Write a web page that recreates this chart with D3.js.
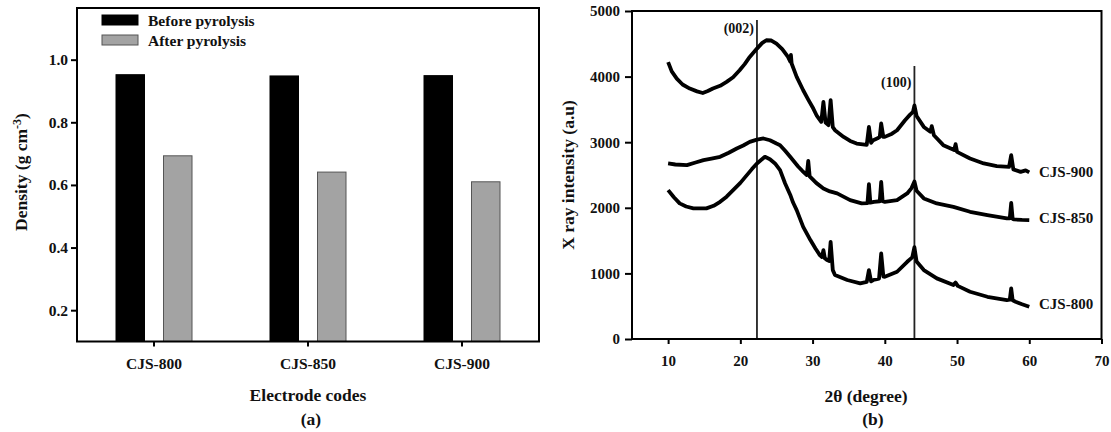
<!DOCTYPE html>
<html>
<head>
<meta charset="utf-8">
<script src="https://cdn.jsdelivr.net/npm/d3@7"></script>
<style>
  html, body { margin: 0; padding: 0; background: #fff; }
  svg { display: block; }
  text { font-family: "Liberation Serif", "Times New Roman", serif; font-weight: bold; fill: #111; }
</style>
</head>
<body>
<svg id="chart" width="1111" height="432"></svg>
<script>
// ---------- Panel (a): density ----------
const electrodeCodes = ["CJS-800", "CJS-850", "CJS-900"];
const seriesNames = ["Before pyrolysis", "After pyrolysis"];
const densityBefore = [0.952, 0.948, 0.949];
const densityAfter = [0.693, 0.641, 0.610];
const densityTicks = [0.2, 0.4, 0.6, 0.8, 1.0];

// ---------- Panel (b): XRD ----------
const cjs900Theta = [10.0,10.5,11.2,12.0,13.0,14.0,14.8,15.5,16.2,17.2,18.1,19.0,19.9,20.6,21.3,22.3,23.0,23.6,24.3,25.0,25.8,26.6,26.9,27.0,27.1,27.8,28.7,29.4,30.1,30.6,31.2,31.5,31.8,32.2,32.5,32.8,33.1,34.3,35.2,36.1,37.5,37.8,38.1,38.4,39.0,39.3,39.5,39.8,40.0,41.0,41.7,42.8,43.5,43.9,44.1,44.4,45.4,46.3,46.5,46.8,48.1,49.6,49.8,50.0,51.8,53.7,55.5,57.2,57.5,57.8,58.8,59.5,60.0];
const cjs900Int   = [4220,4080,3970,3880,3818,3775,3750,3780,3818,3860,3920,3990,4097,4190,4300,4427,4510,4554,4550,4503,4420,4300,4230,4330,4200,3995,3792,3650,3513,3400,3310,3614,3300,3259,3640,3230,3183,3081,3020,2980,2960,3233,2990,3031,3060,3080,3285,3080,3081,3130,3183,3335,3420,3460,3560,3400,3233,3160,3244,3107,2955,2880,2970,2853,2752,2676,2635,2624,2802,2585,2548,2570,2540];

const cjs850Theta = [10.0,11.0,12.6,13.8,14.9,16.0,17.2,18.4,19.5,20.4,21.3,22.3,23.2,24.1,25.0,25.5,26.2,26.9,28.0,28.6,29.2,29.4,29.6,30.5,31.5,32.4,33.4,35.2,36.8,37.6,37.8,38.0,38.5,39.3,39.5,39.7,40.0,41.7,43.1,43.7,44.1,44.4,45.4,47.2,49.5,51.8,54.2,56.9,57.3,57.5,57.7,57.9,59.0,60.0];
const cjs850Int   = [2676,2660,2650,2690,2726,2750,2777,2840,2904,2950,3005,3040,3057,3030,2980,2955,2870,2777,2630,2560,2500,2716,2480,2380,2295,2250,2219,2117,2067,2070,2361,2080,2091,2100,2396,2100,2091,2117,2219,2300,2400,2260,2143,2067,2015,1939,1889,1838,1840,2076,1830,1823,1815,1812];

const cjs800Theta = [10.0,10.8,11.6,12.5,13.5,15.3,16.3,17.2,18.1,19.0,20.0,20.9,21.6,22.3,23.4,24.1,24.8,25.5,26.2,26.9,27.3,27.8,28.7,29.7,30.4,31.0,31.3,31.5,31.7,32.0,32.3,32.5,32.8,33.1,34.8,36.6,37.5,37.8,38.1,38.4,39.2,39.5,39.8,40.0,41.7,43.1,43.8,44.1,44.4,45.4,47.2,49.5,49.8,50.1,51.8,54.2,56.9,57.3,57.5,57.7,58.1,59.0,60.0];
const cjs800Int   = [2269,2160,2067,2020,1991,1991,2030,2091,2170,2269,2380,2498,2590,2676,2777,2740,2676,2574,2371,2200,2080,1965,1710,1508,1380,1279,1250,1355,1230,1203,1190,1482,1050,975,899,848,870,1051,880,899,920,1305,950,949,1025,1177,1244,1400,1180,1051,924,822,860,810,721,644,594,600,772,590,568,530,492];

const xrdSeries = [
  { name: "CJS-900", theta: cjs900Theta, intensity: cjs900Int },
  { name: "CJS-850", theta: cjs850Theta, intensity: cjs850Int },
  { name: "CJS-800", theta: cjs800Theta, intensity: cjs800Int }
];
const xrdXTicks = [10, 20, 30, 40, 50, 60, 70];
const xrdYTicks = [0, 1000, 2000, 3000, 4000, 5000];
const peakLabels = ["(002)", "(100)"];
const peakTheta = [22.3, 44.1];
const peakTop = [4863, 4162];

const svg = d3.select("#chart");

// ================= Panel (a) =================
const a = { left: 77, right: 539, top: 8, bottom: 341.5 };
const xA = d3.scaleBand().domain(electrodeCodes).range([a.left, a.right]).padding(0);
const xInner = d3.scaleBand().domain(seriesNames).range([0, 76]).paddingInner(0.4).paddingOuter(0);
const yA = d3.scaleLinear().domain([0.1, 1.165]).range([a.bottom, a.top]);
const fillA = { "Before pyrolysis": "#000", "After pyrolysis": "#a3a3a3" };
const strokeA = { "Before pyrolysis": "#000", "After pyrolysis": "#555" };

const gA = svg.append("g");
const barData = [];
electrodeCodes.forEach((c, i) => {
  barData.push({ code: c, s: seriesNames[0], v: densityBefore[i] });
  barData.push({ code: c, s: seriesNames[1], v: densityAfter[i] });
});
gA.selectAll("rect.bar").data(barData).join("rect")
  .attr("class", "bar")
  .attr("x", d => xA(d.code) + xA.bandwidth() / 2 - 38 + xInner(d.s))
  .attr("width", xInner.bandwidth())
  .attr("y", d => yA(d.v))
  .attr("height", d => yA(0.1) - yA(d.v))
  .attr("fill", d => fillA[d.s])
  .attr("stroke", d => strokeA[d.s])
  .attr("stroke-width", 1);

// axes
const yAxisA = gA.append("g").attr("transform", `translate(${a.left},0)`)
  .call(d3.axisLeft(yA).tickValues(densityTicks).tickFormat(d3.format(".1f")).tickSize(6).tickPadding(3));
const xAxisA = gA.append("g").attr("transform", `translate(0,${a.bottom})`)
  .call(d3.axisBottom(xA).tickSize(5).tickPadding(11));
[yAxisA, xAxisA].forEach(g => {
  g.select(".domain").remove();
  g.selectAll(".tick line").attr("stroke", "#000").attr("stroke-width", 2);
  g.selectAll(".tick text").style("font-size", "15.5px").style("font-family", "Liberation Serif").style("font-weight", "bold").attr("fill", "#111");
});
gA.append("rect").attr("x", a.left).attr("y", a.top).attr("width", a.right - a.left).attr("height", a.bottom - a.top)
  .attr("fill", "none").attr("stroke", "#000").attr("stroke-width", 2);

// legend
const legA = gA.append("g");
seriesNames.forEach((s, i) => {
  legA.append("rect").attr("x", 102).attr("y", 15 + i * 20).attr("width", 36).attr("height", 10)
    .attr("fill", fillA[s]).attr("stroke", strokeA[s]).attr("stroke-width", 1);
  legA.append("text").attr("x", 148).attr("y", 25.5 + i * 20).style("font-size", "15.5px").text(s);
});

// titles
gA.append("text").attr("x", 308).attr("y", 401).attr("text-anchor", "middle").style("font-size", "17.5px").text("Electrode codes");
gA.append("text").attr("x", 311).attr("y", 425).attr("text-anchor", "middle").style("font-size", "17.5px").text("(a)");
const yt = gA.append("text").attr("transform", "translate(27,172) rotate(-90)").attr("text-anchor", "middle").style("font-size", "17.5px");
yt.append("tspan").text("Density (g cm");
yt.append("tspan").attr("dy", -6).style("font-size", "12px").text("-3");
yt.append("tspan").attr("dy", 6).text(")");

// ================= Panel (b) =================
const b = { left: 632, right: 1101.5, top: 11, bottom: 339 };
const xB = d3.scaleLinear().domain([5, 70]).range([b.left, b.right]);
const yB = d3.scaleLinear().domain([0, 5000]).range([b.bottom, b.top]);
const gB = svg.append("g");

// peak reference lines
peakTheta.forEach((t, i) => {
  gB.append("line").attr("x1", xB(t)).attr("x2", xB(t)).attr("y1", yB(0)).attr("y2", yB(peakTop[i]))
    .attr("stroke", "#222").attr("stroke-width", 1.8);
});

const line = d3.line().x((d) => xB(d[0])).y((d) => yB(d[1]));
xrdSeries.forEach(s => {
  const pts = s.theta.map((t, i) => [t, s.intensity[i]]);
  gB.append("path").datum(pts).attr("d", line).attr("fill", "none")
    .attr("stroke", "#000").attr("stroke-width", 3.8).attr("stroke-linejoin", "round");
});

const yAxisB = gB.append("g").attr("transform", `translate(${b.left},0)`)
  .call(d3.axisLeft(yB).tickValues(xrdYTicks).tickFormat(d3.format("d")).tickSize(7).tickPadding(5));
const xAxisB = gB.append("g").attr("transform", `translate(0,${b.bottom})`)
  .call(d3.axisBottom(xB).tickValues(xrdXTicks).tickFormat(d3.format("d")).tickSize(5).tickPadding(11));
[yAxisB, xAxisB].forEach(g => {
  g.select(".domain").remove();
  g.selectAll(".tick line").attr("stroke", "#000").attr("stroke-width", 2);
  g.selectAll(".tick text").style("font-size", "15px").style("font-family", "Liberation Serif").style("font-weight", "bold").attr("fill", "#111");
});
gB.append("rect").attr("x", b.left).attr("y", b.top).attr("width", b.right - b.left).attr("height", b.bottom - b.top)
  .attr("fill", "none").attr("stroke", "#000").attr("stroke-width", 2);

// peak labels
const peakLabelY = [33, 87];
peakLabels.forEach((l, i) => {
  gB.append("text").attr("x", xB(peakTheta[i]) - 3).attr("y", peakLabelY[i]).attr("text-anchor", "end")
    .style("font-size", "14px").text(l);
});

// series labels
const seriesLabelY = [177, 223, 309];
xrdSeries.forEach((s, i) => {
  gB.append("text").attr("x", 1039).attr("y", seriesLabelY[i]).style("font-size", "15px").text(s.name);
});

gB.append("text").attr("x", 866).attr("y", 402).attr("text-anchor", "middle").style("font-size", "17.5px").text("2θ (degree)");
gB.append("text").attr("x", 873).attr("y", 425).attr("text-anchor", "middle").style("font-size", "17.5px").text("(b)");
gB.append("text").attr("transform", "translate(574,175) rotate(-90)").attr("text-anchor", "middle").style("font-size", "17.5px").text("X ray intensity (a.u)");
</script>
</body>
</html>
